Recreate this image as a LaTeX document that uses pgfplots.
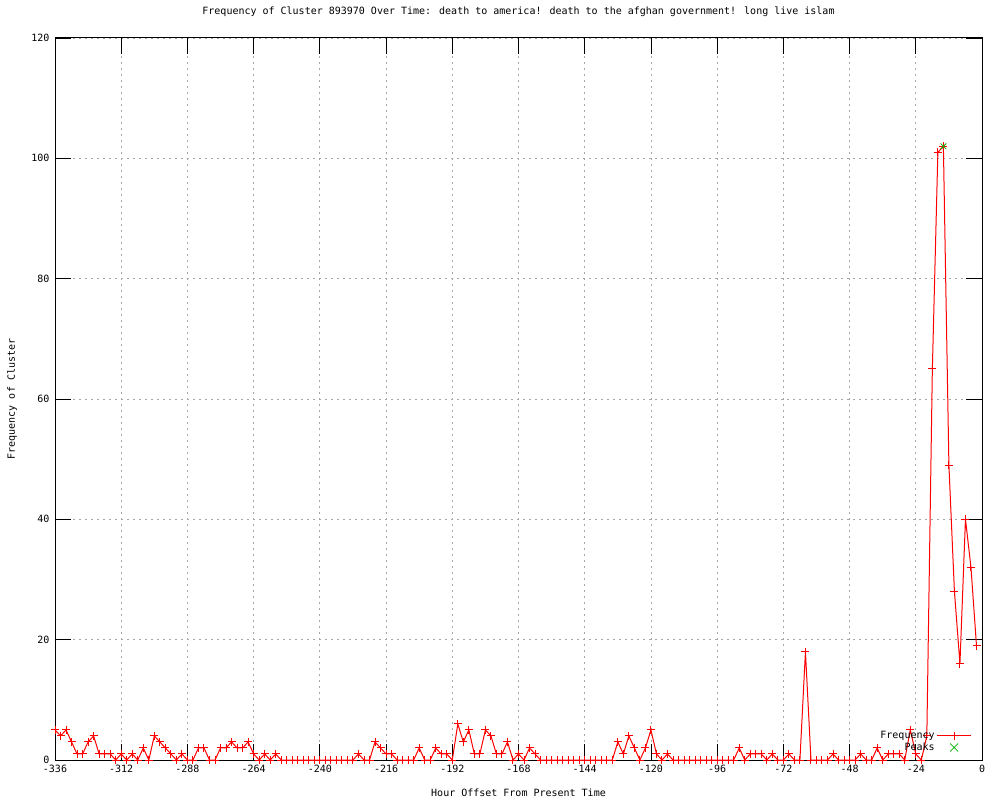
\documentclass[border=0pt]{standalone}
\usepackage{fontspec}
\setmainfont{DejaVu Sans Mono}
\usepackage{pgfplots}
\pgfplotsset{compat=1.18}
\begin{document}
\begin{tikzpicture}
\begin{axis}[
  at={(55pt,40pt)}, anchor=south west,
  scale only axis, width=927pt, height=722pt,
  xmin=-336, xmax=0, ymin=0, ymax=120,
  xtick={-336,-312,...,0}, ytick={0,20,...,120},
  tick align=inside, major tick length=16pt,
  tick style={black, line width=0.8pt},
  axis line style={black, line width=1pt},
  grid=major,
  major grid style={gray!70, line width=0.8pt, dash pattern=on 2pt off 4pt},
  /pgf/number format/assume math mode=true,
  ticklabel style={font=\fontsize{10}{12}\selectfont},
  xticklabel style={yshift=-2pt},
  yticklabel style={xshift=-2pt},
  title={Frequency of Cluster 893970 Over Time: death to america! death to the afghan government! long live islam},
  title style={at={(axis description cs:0.5,1.0277)}, anchor=center, font=\fontsize{10}{12}\selectfont},
  xlabel={Hour Offset From Present Time},
  xlabel style={at={(axis description cs:0.5,-0.0457)}, anchor=center, font=\fontsize{10}{12}\selectfont},
  ylabel={Frequency of Cluster},
  ylabel style={at={(axis description cs:-0.0464,0.5)}, anchor=center, font=\fontsize{10}{12}\selectfont},
  legend cell align=right,
  legend plot pos=right,
  legend style={at={(axis description cs:0.989,0.008)}, anchor=south east, draw=none, fill=none,
    font=\fontsize{10}{12}\selectfont, inner sep=0pt, row sep=-1pt},
]
\addplot[color=red, line width=1pt, mark=+, mark size=4pt,
  legend image code/.code={\draw[red, line width=1pt] (0pt,0pt) -- (34pt,0pt);
    \draw[red, line width=1pt] (17pt,-4pt) -- (17pt,4pt);}] coordinates {
(-336,5)(-334,4)(-332,5)(-330,3)(-328,1)(-326,1)(-324,3)(-322,4)(-320,1)(-318,1)
(-316,1)(-314,0)(-312,1)(-310,0)(-308,1)(-306,0)(-304,2)(-302,0)(-300,4)(-298,3)
(-296,2)(-294,1)(-292,0)(-290,1)(-288,0)(-286,0)(-284,2)(-282,2)(-280,0)(-278,0)
(-276,2)(-274,2)(-272,3)(-270,2)(-268,2)(-266,3)(-264,1)(-262,0)(-260,1)(-258,0)
(-256,1)(-254,0)(-252,0)(-250,0)(-248,0)(-246,0)(-244,0)(-242,0)(-240,0)(-238,0)
(-236,0)(-234,0)(-232,0)(-230,0)(-228,0)(-226,1)(-224,0)(-222,0)(-220,3)(-218,2)
(-216,1)(-214,1)(-212,0)(-210,0)(-208,0)(-206,0)(-204,2)(-202,0)(-200,0)(-198,2)
(-196,1)(-194,1)(-192,0)(-190,6)(-188,3)(-186,5)(-184,1)(-182,1)(-180,5)(-178,4)
(-176,1)(-174,1)(-172,3)(-170,0)(-168,1)(-166,0)(-164,2)(-162,1)(-160,0)(-158,0)
(-156,0)(-154,0)(-152,0)(-150,0)(-148,0)(-146,0)(-144,0)(-142,0)(-140,0)(-138,0)
(-136,0)(-134,0)(-132,3)(-130,1)(-128,4)(-126,2)(-124,0)(-122,2)(-120,5)(-118,1)
(-116,0)(-114,1)(-112,0)(-110,0)(-108,0)(-106,0)(-104,0)(-102,0)(-100,0)(-98,0)
(-96,0)(-94,0)(-92,0)(-90,0)(-88,2)(-86,0)(-84,1)(-82,1)(-80,1)(-78,0)
(-76,1)(-74,0)(-72,0)(-70,1)(-68,0)(-66,0)(-64,18)(-62,0)(-60,0)(-58,0)
(-56,0)(-54,1)(-52,0)(-50,0)(-48,0)(-46,0)(-44,1)(-42,0)(-40,0)(-38,2)
(-36,0)(-34,1)(-32,1)(-30,1)(-28,0)(-26,5)(-24,1)(-22,0)(-20,4)(-18,65)
(-16,101)(-14,102)(-12,49)(-10,28)(-8,16)(-6,40)(-4,32)(-2,19)
};
\addlegendentry{Frequency}
\addplot[only marks, color=green!70!black, mark=x, mark size=4pt, line width=0.8pt,
  legend image code/.code={\draw[green!70!black, line width=0.8pt] (13pt,-4pt) -- (21pt,4pt) (13pt,4pt) -- (21pt,-4pt);
    \path (0pt,0pt) (34pt,0pt);}] coordinates {(-14,102)};
\addlegendentry{Peaks}
\end{axis}
\pgfresetboundingbox
\path (0,0) rectangle (1000pt,800pt);
\end{tikzpicture}
\end{document}
